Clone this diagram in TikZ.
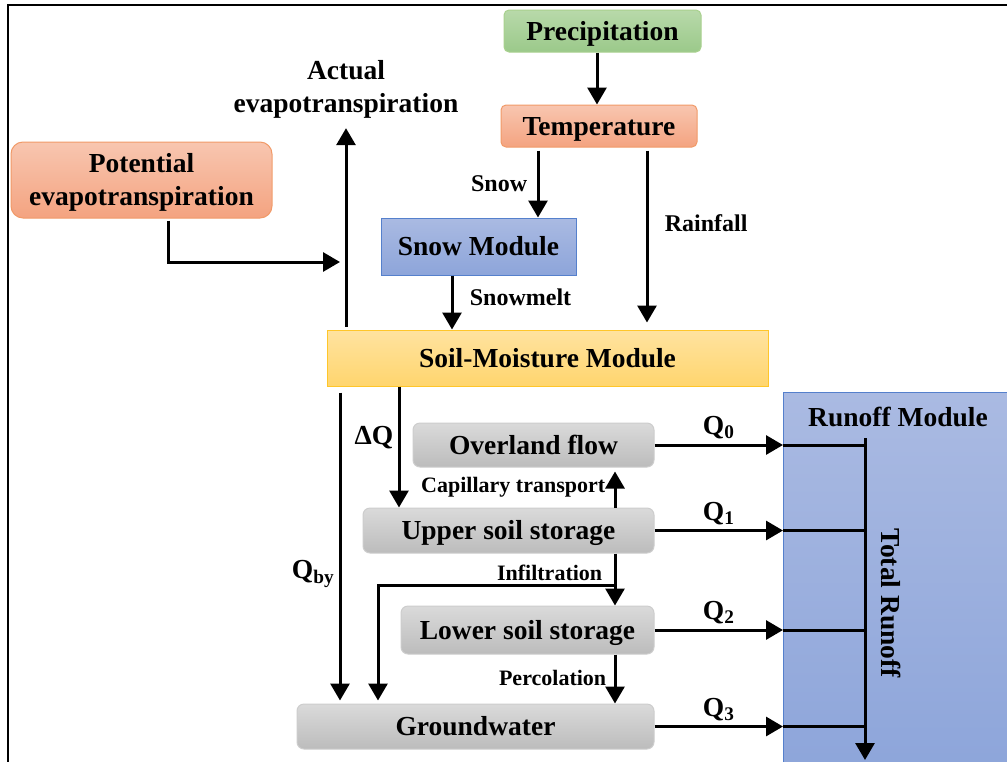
\documentclass[tikz,border=0pt]{standalone}
\usepackage{fontspec}
\setmainfont{Liberation Serif}
\usetikzlibrary{arrows.meta}

\definecolor{precTop}{HTML}{B8D9AA}
\definecolor{precBot}{HTML}{9BC98A}
\definecolor{precLine}{HTML}{A9D18E}
\definecolor{tempTop}{HTML}{F8C6B0}
\definecolor{tempBot}{HTML}{F4A380}
\definecolor{tempLine}{HTML}{F19A68}
\definecolor{snowTop}{HTML}{AABAE2}
\definecolor{snowBot}{HTML}{8DA5DA}
\definecolor{snowLine}{HTML}{5580CC}
\definecolor{soilTop}{HTML}{FFE3A0}
\definecolor{soilBot}{HTML}{FFD56E}
\definecolor{soilLine}{HTML}{FFC62A}
\definecolor{grayTop}{HTML}{DADADA}
\definecolor{grayBot}{HTML}{BCBCBC}
\definecolor{grayLine}{HTML}{CDCDCD}

\newcommand\bigf{\fontsize{27.5}{33}\selectfont\bfseries}
\newcommand\midf{\fontsize{24}{28}\selectfont\bfseries}
\newcommand\smallf{\fontsize{22}{26}\selectfont\bfseries}

\tikzset{
  box/.style={draw, line width=1pt, inner sep=0pt, align=center, font=\bigf,
    text height=18pt, text depth=0pt},
  greenbox/.style={box, rounded corners=5pt, draw=precLine, top color=precTop, bottom color=precBot},
  orangebox/.style={box, draw=tempLine, top color=tempTop, bottom color=tempBot},
  bluebox/.style={box, draw=snowLine, top color=snowTop, bottom color=snowBot},
  soilbox/.style={box, draw=soilLine, top color=soilTop, bottom color=soilBot},
  graybox/.style={box, rounded corners=7pt, draw=grayLine, top color=grayTop, bottom color=grayBot},
  arr/.style={line width=3pt, -{Triangle[length=17pt,width=19pt]}},
  lbl/.style={font=\midf},
  lbltwo/.style={font=\smallf},
  qlbl/.style={font=\bigf}
}

\begin{document}
\begin{tikzpicture}[x=1pt, y=-1pt]
  \useasboundingbox (0,0) rectangle (1007,761);
  \clip (0,0) rectangle (1007,761);
  \fill[white] (0,0) rectangle (1007,761);
  \draw[line width=2pt] (8,765) -- (8,5) -- (1010,5);

  % boxes
  \node[greenbox, minimum width=197pt, minimum height=42pt] (prec) at (602.5,31) {Precipitation};
  \node[orangebox, rounded corners=5pt, minimum width=196pt, minimum height=42pt] (temp) at (599,126) {Temperature};
  \node[orangebox, rounded corners=12pt, minimum width=261pt, minimum height=76pt, text height=51pt] (pet) at (141.5,180) {Potential\\evapotranspiration};
  \node[font=\bigf, align=center, inner sep=0pt] (aet) at (346,89) {Actual\\evapotranspiration};
  \node[bluebox, minimum width=195pt, minimum height=57pt] (snow) at (478.5,246.5) {Snow Module};
  \node[soilbox, minimum width=441pt, minimum height=56pt] (soil) at (547.5,358) {Soil-Moisture Module};
  \node[graybox, minimum width=241pt, minimum height=44pt] (over) at (533.5,445) {Overland flow};
  \node[graybox, minimum width=291pt, minimum height=45pt] (upper) at (508.5,530.5) {Upper soil storage};
  \node[graybox, minimum width=253pt, minimum height=48pt] (lower) at (527.5,630) {Lower soil storage};
  \node[graybox, minimum width=357pt, minimum height=45pt] (ground) at (475.5,726.5) {Groundwater};
  \node[bluebox, anchor=north west, minimum width=240pt, minimum height=380pt] (runoff) at (783,392) {};
  \node[font=\bigf] (runlbl) at (898,417) {Runoff Module};
  \node[font=\bigf, rotate=-90] (total) at (891,603) {Total Runoff};

  % top part
  \draw[arr] ([xshift=-5.5pt]prec.south) -- ([xshift=-2pt]temp.north);
  \draw[arr] ([xshift=-61pt,yshift=-3pt]temp.south) -- ([xshift=59.5pt]snow.north)
    node[pos=0.5, left=6pt, lbl] {Snow};
  \draw[arr] ([xshift=48pt,yshift=-3pt]temp.south) -- ([xshift=99.5pt,yshift=7pt]soil.north)
    node[pos=0.42, right=13pt, lbl] {Rainfall};
  \draw[arr] ([xshift=-26.5pt]snow.south) -- ([xshift=-95.5pt]soil.north)
    node[pos=0.4, right=13pt, lbl] {Snowmelt};
  \draw[arr] ([xshift=-201.5pt,yshift=3pt]soil.north) -- ([yshift=-10pt]aet.south);
  \coordinate (petin) at (340,262);
  \draw[arr] ([xshift=26.5pt,yshift=-2pt]pet.south) |- (petin);

  % soil part
  \draw[arr] ([xshift=-207.5pt,yshift=-6pt]soil.south) -- ([xshift=-135.5pt,yshift=3pt]ground.north)
    node[pos=0.59, left=1pt, qlbl] {Q\textsubscript{by}};
  \draw[arr] ([xshift=-148.5pt]soil.south) -- ([xshift=-109.5pt]upper.north)
    node[pos=0.42, left=1pt, qlbl] {ΔQ};
  \draw[arr] ([xshift=106.5pt]upper.north) -- ([xshift=81.5pt,yshift=-4pt]over.south)
    node[pos=0.57, left=5pt, lbltwo] {Capillary transport};
  \draw[arr] ([xshift=106.5pt]upper.south) -- ([xshift=87.5pt]lower.north)
    node[pos=0.38, left=8pt, lbltwo] {Infiltration};
  \coordinate (infsplit) at (615,585);
  \draw[arr] (infsplit) -| ([xshift=-97.5pt,yshift=3pt]ground.north);
  \draw[arr] ([xshift=87.5pt]lower.south) -- ([xshift=139.5pt]ground.north)
    node[pos=0.48, left=4pt, lbltwo] {Percolation};

  % runoff
  \coordinate (trunktop) at (865,438);
  \coordinate (trunkend) at (865,760);
  \draw[arr] (trunktop) -- (trunkend);
  \foreach \stor/\q in {over/0, upper/1, lower/2, ground/3} {
    \draw[arr] (\stor.east) -- (\stor.east -| runoff.west)
      node[midway, above=1pt, qlbl] {Q\textsubscript{\q}};
    \draw[line width=3pt] (\stor.east -| runoff.west) -- (\stor.east -| trunktop);
  }
\end{tikzpicture}
\end{document}
